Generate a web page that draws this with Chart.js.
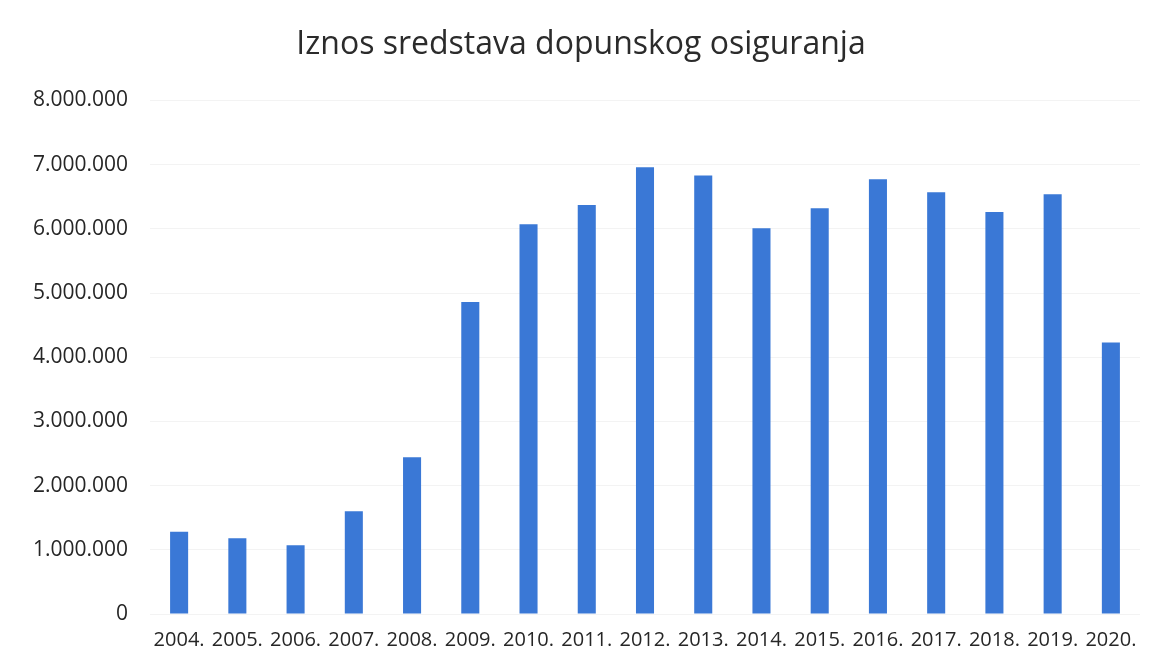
<!DOCTYPE html>
<html>
<head>
<meta charset="utf-8">
<script src="https://cdn.jsdelivr.net/npm/chart.js@4"></script>
<style>
    html, body { margin: 0; padding: 0; background: #fff; }
    #wrap { width: 1158px; height: 663px; }
</style>
</head>
<body>
<div id="wrap"><canvas id="chart" width="1158" height="663"></canvas></div>
<script>
const years = ['2004.', '2005.', '2006.', '2007.', '2008.', '2009.', '2010.', '2011.', '2012.',
    '2013.', '2014.', '2015.', '2016.', '2017.', '2018.', '2019.', '2020.'];
const amounts = [1280000, 1180000, 1070000, 1600000, 2440000, 4860000, 6070000, 6370000, 6960000,
    6830000, 6010000, 6320000, 6770000, 6570000, 6260000, 6540000, 4230000];
const yTicks = [0, 1000000, 2000000, 3000000, 4000000, 5000000, 6000000, 7000000, 8000000];

// 8000000 -> 8.000.000
const formatNumber = (v) => String(v).replace(/\B(?=(\d{3})+(?!\d))/g, '.');

const fontFamily = "'Open Sans', 'Noto Sans', sans-serif";

new Chart(document.getElementById('chart').getContext('2d'), {
    type: 'bar',
    data: {
        labels: years,
        datasets: [{
            label: 'Iznos',
            data: amounts,
            backgroundColor: '#3a78d6',
            barPercentage: 0.62,
            categoryPercentage: 0.5
        }]
    },
    options: {
        responsive: false,
        animation: false,
        layout: {
            padding: { left: 22, right: 18, top: 8, bottom: 0 }
        },
        plugins: {
            legend: { display: false },
            tooltip: { enabled: false },
            title: {
                display: true,
                text: 'Iznos sredstava dopunskog osiguranja',
                color: '#2b2b2b',
                font: { family: fontFamily, size: 32, weight: 'normal' },
                padding: { top: 18, bottom: 36 }
            }
        },
        scales: {
            x: {
                afterFit: (axis) => {
                    axis.height = 49;
                },
                grid: { display: false, drawTicks: false },
                border: { display: false },
                ticks: {
                    color: '#262626',
                    font: { family: fontFamily, size: 20 },
                    padding: 14,
                    maxRotation: 0,
                    autoSkip: false
                }
            },
            y: {
                min: 0,
                max: 8000000,
                afterBuildTicks: (axis) => {
                    axis.ticks = yTicks.map(v => ({ value: v }));
                },
                afterFit: (axis) => {
                    axis.width = 128;
                },
                grid: { color: '#f3f3f3', drawTicks: false },
                border: { display: false },
                ticks: {
                    color: '#262626',
                    font: { family: fontFamily, size: 21 },
                    padding: 22,
                    callback: (v) => formatNumber(v)
                }
            }
        }
    }
});
</script>
</body>
</html>
